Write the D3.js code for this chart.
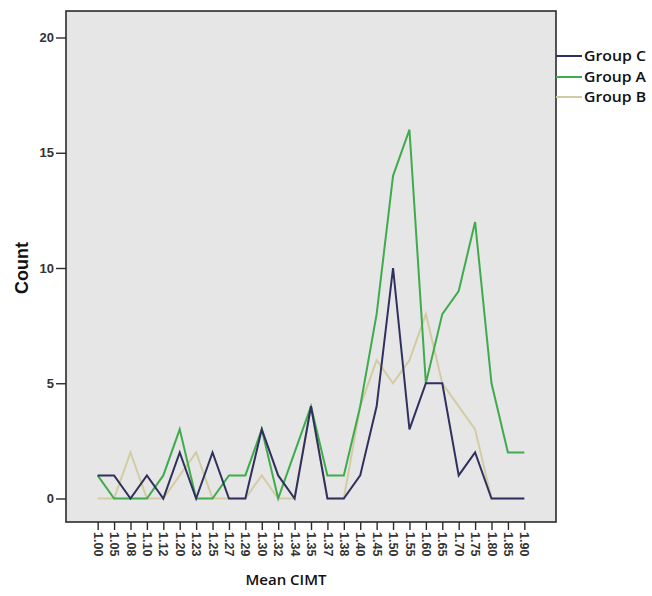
<!DOCTYPE html>
<html>
<head>
<meta charset="utf-8">
<script src="https://cdn.jsdelivr.net/npm/d3@7"></script>
<style>
  html, body { margin: 0; padding: 0; background: #ffffff; }
  svg { display: block; }
</style>
</head>
<body>
<div id="chart"></div>
<script>
const categories = ["1.00","1.05","1.08","1.10","1.12","1.20","1.23","1.25","1.27","1.29","1.30","1.32","1.34","1.35","1.37","1.38","1.40","1.45","1.50","1.55","1.60","1.65","1.70","1.75","1.80","1.85","1.90"];
const groupC = [1,1,0,1,0,2,0,2,0,0,3,1,0,4,0,0,1,4,10,3,5,5,1,2,0,0,0];
const groupA = [1,0,0,0,1,3,0,0,1,1,3,0,2,4,1,1,4,8,14,16,5,8,9,12,5,2,2];
const groupB = [0,0,2,0,0,1,2,0,0,0,1,0,0,4,0,0,4,6,5,6,8,5,4,3,0,0,0];
const yTicks = [0,5,10,15,20];
const seriesNames = ["Group C","Group A","Group B"];
const seriesColors = {"Group C":"#30305f","Group A":"#3fab4d","Group B":"#d3cca3"};
const seriesData = {"Group C":groupC,"Group A":groupA,"Group B":groupB};

const W = 652, H = 596;
const frame = {left: 66, right: 556, top: 11, bottom: 522};

const svg = d3.select("#chart").append("svg").attr("width", W).attr("height", H);

const x = d3.scalePoint().domain(categories).range([frame.left, frame.right]).padding(1.93);
const y = d3.scaleLinear().domain([0, 20]).range([498.5, 37.5]);

svg.append("rect")
  .attr("x", frame.left).attr("y", frame.top)
  .attr("width", frame.right - frame.left).attr("height", frame.bottom - frame.top)
  .attr("fill", "#e6e6e6").attr("stroke", "#2b2b2b").attr("stroke-width", 1.6);

// Y axis
const yAxis = d3.axisLeft(y).tickValues(yTicks).tickSize(10).tickPadding(2);
const gy = svg.append("g").attr("transform", `translate(${frame.left},0)`).call(yAxis);
gy.select(".domain").remove();
gy.selectAll(".tick line").attr("stroke", "#2b2b2b").attr("stroke-width", 1.4);
gy.selectAll(".tick text").attr("font-family", "Liberation Sans, Arial, sans-serif")
  .attr("font-size", 13).attr("font-weight", "bold").attr("fill", "#333");

// X axis
const xAxis = d3.axisBottom(x).tickSize(8).tickPadding(0);
const gx = svg.append("g").attr("transform", `translate(0,${frame.bottom})`).call(xAxis);
gx.select(".domain").remove();
gx.selectAll(".tick line").attr("stroke", "#2b2b2b").attr("stroke-width", 1.4);
gx.selectAll(".tick text")
  .attr("font-family", "Liberation Sans, Arial, sans-serif")
  .attr("font-size", 12.5).attr("font-weight", "bold").attr("fill", "#333")
  .attr("transform", "rotate(90)")
  .attr("x", 10).attr("y", 0).attr("dy", "0.35em")
  .attr("text-anchor", "start");

// Lines (B first, then A, then C on top)
const line = d3.line().x((d, i) => x(categories[i])).y(d => y(d));
["Group B","Group A","Group C"].forEach(name => {
  svg.append("path")
    .datum(seriesData[name])
    .attr("d", line)
    .attr("fill", "none")
    .attr("stroke", seriesColors[name])
    .attr("stroke-width", 2)
    .attr("stroke-linejoin", "miter");
});

// Axis titles
svg.append("text")
  .attr("transform", "translate(28,268) rotate(-90)")
  .attr("text-anchor", "middle")
  .attr("font-family", "Liberation Sans, Arial, sans-serif")
  .attr("font-size", 18).attr("font-weight", "bold").attr("fill", "#111")
  .text("Count");

svg.append("text")
  .attr("x", 286).attr("y", 585)
  .attr("text-anchor", "middle")
  .attr("font-family", "Open Sans, sans-serif")
  .attr("font-size", 15).attr("font-weight", 600).attr("fill", "#111")
  .text("Mean CIMT");

// Legend
const legendY = [56, 77, 97];
seriesNames.forEach((name, i) => {
  svg.append("line")
    .attr("x1", frame.right).attr("x2", 582)
    .attr("y1", legendY[i]).attr("y2", legendY[i])
    .attr("stroke", seriesColors[name]).attr("stroke-width", 2);
  svg.append("text")
    .attr("x", 584).attr("y", legendY[i]).attr("dy", "0.35em")
    .attr("font-family", "Open Sans, sans-serif")
    .attr("font-size", 14).attr("font-weight", 600).attr("fill", "#111")
    .attr("textLength", 62).attr("lengthAdjust", "spacingAndGlyphs")
    .text(name);
});
</script>
</body>
</html>
